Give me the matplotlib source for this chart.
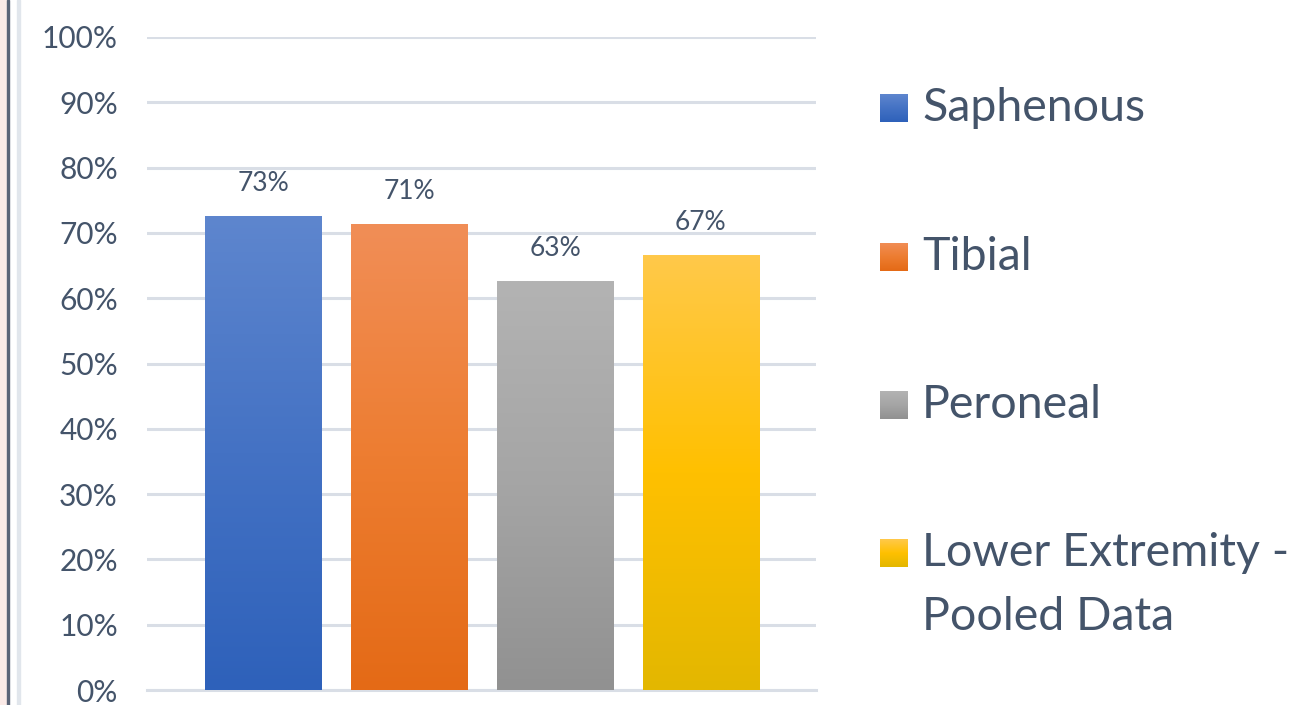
import numpy as np
import matplotlib.pyplot as plt
from matplotlib.colors import LinearSegmentedColormap
from matplotlib.patches import Rectangle

plt.rcParams['font.family'] = ['Lato', 'DejaVu Sans']

series = ['Saphenous', 'Tibial', 'Peroneal', 'Lower Extremity -\nPooled Data']
values = [0.726, 0.714, 0.626, 0.666]
ticks = [0.0, 0.1, 0.2, 0.3, 0.4, 0.5, 0.6, 0.7, 0.8, 0.9, 1.0]

# light top, base colour in the middle, dark bottom
gradients = [
    ['#2E61BA', '#4472C4', '#5E86CE'],
    ['#E46A16', '#ED7D31', '#F18E57'],
    ['#919191', '#A5A5A5', '#B3B3B3'],
    ['#E3B700', '#FFC000', '#FFC94A'],
]
text_col = '#44546A'
grid_col = '#D9DEE6'

fig = plt.figure(figsize=(12.92, 7.05), dpi=100)

# window edge on the left
fig.patches.append(Rectangle((0, 0), 7 / 1292, 1, transform=fig.transFigure,
                             color='#FBEAE7', zorder=0))
fig.patches.append(Rectangle((7 / 1292, 0), 1.5 / 1292, 1, transform=fig.transFigure,
                             color='#5B6477', zorder=0))
fig.patches.append(Rectangle((17 / 1292, 0), 2.5 / 1292, 1, transform=fig.transFigure,
                             color='#E1E6EC', zorder=0))

ax = fig.add_axes([147 / 1292, 15 / 705, 669 / 1292, 653 / 705])
x = np.arange(len(series))
width = 0.8

bars = ax.bar(x, values, width=width, color='none', edgecolor='none', zorder=3)
for bar, cols, v in zip(bars, gradients, values):
    cmap = LinearSegmentedColormap.from_list('g', cols)
    grad = np.linspace(0, 1, 256).reshape(-1, 1)
    x0 = bar.get_x()
    im = ax.imshow(grad, cmap=cmap, aspect='auto', origin='lower',
                   extent=[x0, x0 + bar.get_width(), 0, v], zorder=3)
    im.set_clip_path(bar)
    ax.text(bar.get_x() + bar.get_width() / 2, v + 0.031, f'{v:.0%}',
            ha='center', va='bottom', fontsize=19, color=text_col, zorder=4)

ax.set_xlim(-0.8, 3.79)
ax.set_ylim(0, 1.0)
ax.set_yticks(ticks)
ax.set_yticklabels([f'{t:.0%}' for t in ticks])
ax.yaxis.grid(True, color=grid_col, linewidth=2.2, zorder=0)
ax.set_axisbelow(True)
ax.set_xticks([])
ax.tick_params(axis='y', length=0, pad=21, labelsize=21.5, labelcolor=text_col)
for s in ax.spines.values():
    s.set_visible(False)
ax.spines['bottom'].set_visible(True)
ax.spines['bottom'].set_color(grid_col)
ax.spines['bottom'].set_linewidth(2.2)

# legend drawn by hand, one entry every ~148 px
leg_y = [108, 257, 405, 553]
line_gap = 64
for name, cols, yc in zip(series, gradients, leg_y):
    lax = fig.add_axes([880 / 1292, 1 - (yc + 14) / 705, 28 / 1292, 28 / 705])
    cmap = LinearSegmentedColormap.from_list('g', cols)
    lax.imshow(np.linspace(0, 1, 64).reshape(-1, 1), cmap=cmap, aspect='auto',
               origin='lower', extent=[0, 1, 0, 1])
    lax.axis('off')
    for i, line in enumerate(name.split('\n')):
        fig.text(922 / 1292, 1 - (yc + i * line_gap) / 705, line, ha='left',
                 va='center', fontsize=33.5, color=text_col)

fig.savefig('out.png', dpi=100)
